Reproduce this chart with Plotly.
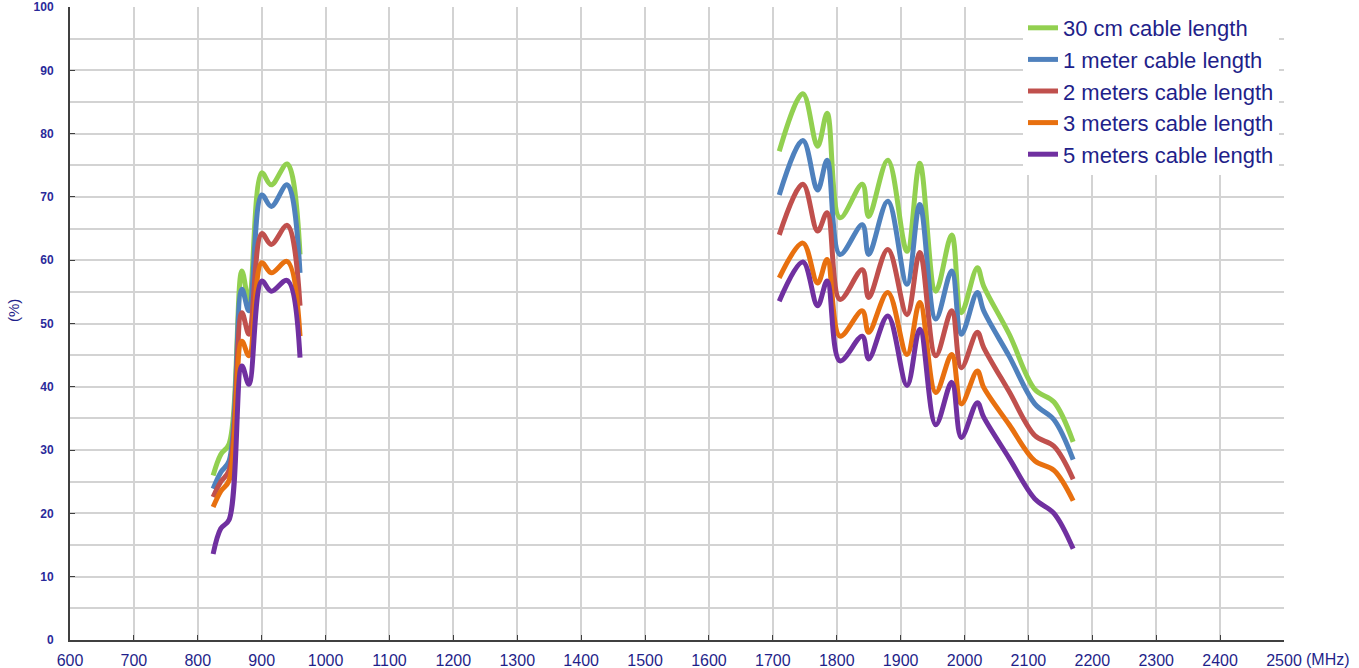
import plotly.graph_objects as go

# Frequencies (MHz)
freq_low = [824, 836, 849, 869, 880, 900, 915, 940, 960]
freq_high = [1710, 1747, 1770, 1785, 1805, 1840, 1850, 1880, 1910, 1930, 1955, 1980, 1995, 2020, 2030, 2070, 2110, 2140, 2170]

# Efficiency (%) per cable length
green_low = [26.0, 29.3, 31.0, 58.3, 53.5, 73.8, 71.9, 75.2, 60.9]
green_high = [77.2, 86.3, 78.0, 83.2, 66.7, 72.0, 66.9, 75.8, 61.4, 75.3, 55.1, 64.0, 51.7, 58.8, 55.9, 48.3, 39.6, 37.6, 31.3]

blue_low = [23.9, 26.5, 28.3, 55.4, 52.0, 70.3, 68.5, 71.9, 58.0]
blue_high = [70.3, 78.9, 71.1, 75.8, 60.9, 65.6, 60.9, 69.3, 56.2, 68.8, 50.7, 58.3, 48.3, 54.9, 52.0, 44.8, 37.3, 34.8, 28.5]

red_low = [22.6, 25.0, 26.8, 51.7, 48.3, 64.2, 62.5, 65.5, 52.8]
red_high = [64.0, 72.0, 64.6, 67.5, 53.8, 58.5, 54.1, 61.7, 51.4, 61.2, 44.9, 52.0, 43.0, 48.6, 46.2, 39.2, 32.3, 30.6, 25.4]

orange_low = [21.0, 23.5, 25.2, 47.2, 44.9, 59.6, 58.0, 59.8, 48.0]
orange_high = [57.2, 62.7, 56.4, 60.1, 48.0, 52.0, 48.6, 54.9, 45.1, 53.3, 39.1, 45.1, 37.3, 42.5, 39.9, 34.0, 28.3, 26.8, 22.0]

purple_low = [13.6, 17.6, 19.0, 43.3, 40.4, 56.7, 55.1, 56.8, 44.6]
purple_high = [53.5, 59.7, 52.8, 56.7, 44.1, 48.0, 44.4, 51.2, 40.2, 49.1, 34.0, 40.7, 32.0, 37.5, 35.2, 28.7, 22.3, 20.0, 14.4]

series_names = ["30 cm cable length", "1 meter cable length", "2 meters cable length",
                "3 meters cable length", "5 meters cable length"]
series_colors = ["#92d050", "#4f81bd", "#c0504d", "#e8700f", "#7030a0"]
series_low = [green_low, blue_low, red_low, orange_low, purple_low]
series_high = [green_high, blue_high, red_high, orange_high, purple_high]

x_ticks = list(range(600, 2501, 100))
y_ticks = list(range(0, 101, 10))

fig = go.Figure()
for name, color, lo, hi in zip(series_names, series_colors, series_low, series_high):
    fig.add_trace(go.Scatter(
        x=freq_low + [None] + freq_high,
        y=lo + [None] + hi,
        mode="lines",
        name=name,
        connectgaps=False,
        line=dict(color=color, width=5, shape="spline", smoothing=1.0),
    ))

navy = "#1f1f8a"
fig.update_layout(
    width=1359, height=668,
    margin=dict(l=70, r=75, t=7, b=28, autoexpand=False),
    paper_bgcolor="white", plot_bgcolor="white",
    font=dict(family="Liberation Sans, Arial, sans-serif", color=navy),
    showlegend=True,
    legend=dict(
        x=0.785, xanchor="left", y=1.0, yanchor="top",
        bgcolor="white", borderwidth=0,
        font=dict(size=22, color=navy, family="Liberation Sans, Arial, sans-serif"),
        tracegroupgap=0,
    ),
    xaxis=dict(
        range=[600, 2500], tickmode="array", tickvals=x_ticks,
        ticktext=[str(v) for v in x_ticks],
        showgrid=True, gridcolor="#d3d3d3", gridwidth=1.5,
        showline=True, linecolor="#404040", linewidth=2,
        ticks="inside", ticklen=5, tickcolor="#404040",
        tickfont=dict(size=16, color=navy),
        ticklabelstandoff=5, ticklabeloverflow="allow", automargin=False,
        zeroline=False, fixedrange=True,
    ),
    yaxis=dict(
        range=[0, 100], tickmode="array", tickvals=y_ticks,
        showgrid=True, gridcolor="#d3d3d3", gridwidth=1.5,
        minor=dict(dtick=5, showgrid=True, gridcolor="#d3d3d3", gridwidth=1.5),
        showline=True, linecolor="#404040", linewidth=2,
        ticks="inside", ticklen=5, tickcolor="#404040",
        tickfont=dict(size=12, color="#2a2a9a", family="Liberation Sans, Arial, sans-serif", weight="bold"),
        ticklabelstandoff=12, ticklabeloverflow="allow", automargin=False,
        zeroline=False, fixedrange=True,
    ),
    annotations=[
        dict(text="(%)", xref="paper", yref="paper", x=-0.046, y=0.52,
             xanchor="center", yanchor="middle", textangle=-90, showarrow=False,
             font=dict(size=15, color=navy)),
        dict(text="(MHz)", xref="paper", yref="paper", x=1.0, y=0,
             xanchor="left", yanchor="top", yshift=-9, xshift=20, showarrow=False,
             font=dict(size=16, color=navy)),
    ],
)

fig.write_html("out.html", config={"displayModeBar": False},
               post_script="document.body.style.margin='0px';document.body.style.overflow='hidden';")
